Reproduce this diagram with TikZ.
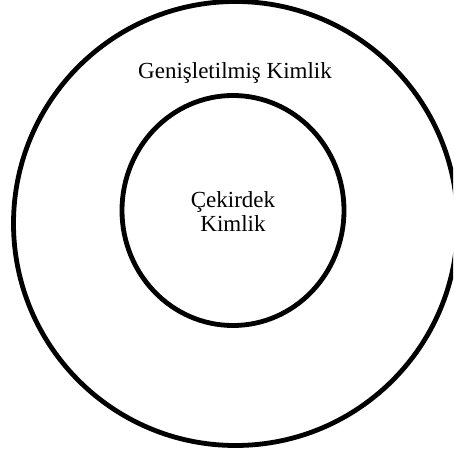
\documentclass[tikz,border=0pt]{standalone}
\usepackage{fontspec}
\setmainfont{Liberation Serif}
\usetikzlibrary{shapes.geometric}
\begin{document}
\begin{tikzpicture}[x=1pt,y=-1pt,
  ring/.style={draw=black,line width=4.8pt},
  lbl/.style={inner sep=0pt,font=\fontsize{23}{23.5}\selectfont,align=center}]
\useasboundingbox (0,0) rectangle (453,454);
\clip (0,0) rectangle (453,454);
\fill[white] (0,0) rectangle (453,454);
\node[ring,circle,minimum size=444pt,inner sep=0pt] (outer) at (235.5,223.5) {};
\node[ring,ellipse,minimum width=222pt,minimum height=230pt,inner sep=0pt] (inner) at (233,210.5) {};
\node[lbl,anchor=base] (outerlbl) at (235,79) {Genişletilmiş Kimlik};
\node[lbl,anchor=center] (innerlbl) at (233,211.5) {Çekirdek\\Kimlik};
\end{tikzpicture}
\end{document}
